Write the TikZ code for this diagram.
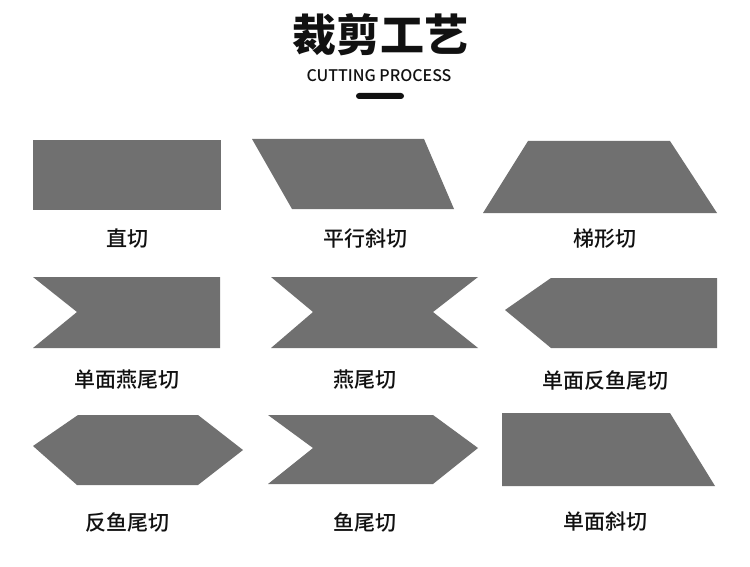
\documentclass[tikz,border=0pt]{standalone}
\usepackage{fontspec}
\newfontfamily\cjk{Noto Sans CJK SC}
\newfontfamily\cjkm{Noto Sans CJK SC Medium}
\definecolor{shapegray}{HTML}{707070}
\definecolor{ink}{HTML}{111111}
\tikzset{
  cutshape/.style={fill=shapegray, draw=none},
  cutlabel/.style={font=\cjkm\fontsize{21}{21}\selectfont, text=ink, inner sep=0pt, anchor=center},
}
\begin{document}
\begin{tikzpicture}[x=1pt,y=-1pt]
\useasboundingbox[fill=white] (0,0) rectangle (750,567);
% title
\node[font=\cjk\bfseries\fontsize{44}{44}\selectfont, text=ink, inner sep=0pt] (title) at (380,35) {裁剪工艺};
\node[font=\cjkm\fontsize{16}{16}\selectfont, text=ink, inner sep=0pt] (subtitle) at (379,76) {CUTTING PROCESS};
\fill[ink, rounded corners=3pt] (356,93) rectangle (404,99);
% row 1
\fill[cutshape] (33,140) rectangle (221,210);
\node[cutlabel] (l1) at (127,239) {直切};
\fill[cutshape] (252,139) -- (424,139) -- (454,209) -- (292,209) -- cycle;
\node[cutlabel] (l2) at (365,239) {平行斜切};
\fill[cutshape] (528,141) -- (670,141) -- (717,213) -- (483,213) -- cycle;
\node[cutlabel] (l3) at (605,239) {梯形切};
% row 2
\fill[cutshape] (33,277) -- (220,277) -- (220,348) -- (33,348) -- (77,312) -- cycle;
\node[cutlabel] (l4) at (127,380) {单面燕尾切};
\fill[cutshape] (271,277) -- (478,277) -- (433,312) -- (478,348) -- (271,348) -- (313,312) -- cycle;
\node[cutlabel] (l5) at (365,380) {燕尾切};
\fill[cutshape] (505,310) -- (551,278) -- (717,278) -- (717,348) -- (551,348) -- cycle;
\node[cutlabel] (l6) at (605,380) {单面反鱼尾切};
% row 3
\fill[cutshape] (33,446) -- (78,415) -- (198,415) -- (243,450) -- (198,485) -- (77,485) -- cycle;
\node[cutlabel] (l7) at (127,522) {反鱼尾切};
\fill[cutshape] (268,415) -- (433,415) -- (478,448) -- (433,484) -- (268,484) -- (313,448) -- cycle;
\node[cutlabel] (l8) at (365,522) {鱼尾切};
\fill[cutshape] (502,413) -- (670,413) -- (715,486) -- (502,486) -- cycle;
\node[cutlabel] (l9) at (605,522) {单面斜切};
\end{tikzpicture}
\end{document}
